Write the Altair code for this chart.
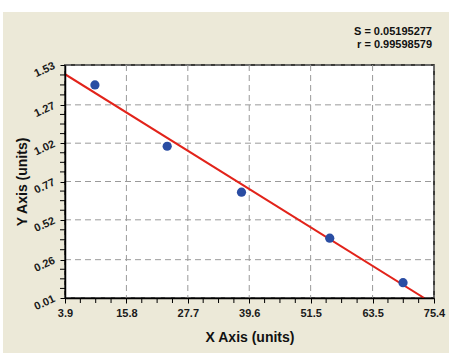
import altair as alt
import pandas as pd

# ---- data ----
x_ticks = [3.9, 15.8, 27.7, 39.6, 51.5, 63.5, 75.4]
y_ticks = [0.01, 0.26, 0.52, 0.77, 1.02, 1.27, 1.53]
point_x = [9.7, 23.7, 38.1, 55.2, 69.4]
point_y = [1.40, 1.00, 0.70, 0.40, 0.11]
fit_x = [3.9, 73.5]
fit_y = [1.47, 0.01]
stats_text = ["S = 0.05195277", "r = 0.99598579"]

W, H = 369, 233
FONT = "Liberation Sans"
BG = "#ECE9D8"

x_minor = [a + (b - a) * k / 4 for a, b in zip(x_ticks[:-1], x_ticks[1:]) for k in (1, 2, 3)]
y_minor = [a + (b - a) * k / 4 for a, b in zip(y_ticks[:-1], y_ticks[1:]) for k in (1, 2, 3)]

pts = pd.DataFrame({"x": point_x, "y": point_y})
fit = pd.DataFrame({"x": fit_x, "y": fit_y})
xt = pd.DataFrame({"x": x_ticks})
yt = pd.DataFrame({"y": y_ticks})
xm = pd.DataFrame({"x": x_minor})
ym = pd.DataFrame({"y": y_minor})
one = pd.DataFrame({"a": [0]})

xscale = alt.Scale(domain=[x_ticks[0], x_ticks[-1]], nice=False, zero=False)
yscale = alt.Scale(domain=[y_ticks[0], y_ticks[-1]], nice=False, zero=False)

xaxis = alt.Axis(
    values=x_ticks, format=".1f", title="X Axis (units)", grid=False,
    domainColor="black", domainWidth=1.5, tickColor="black", tickSize=5,
    labelFont=FONT, labelFontWeight="bold", labelFontSize=11, labelColor="#1a1a1a",
    labelPadding=4, titleFont=FONT, titleFontSize=14, titleFontWeight="bold",
    titleColor="#111", titlePadding=12, zindex=2, labelFlush=False,
    labelOverlap=False,
)
yaxis = alt.Axis(
    values=y_ticks, format=".2f", title="Y Axis (units)", grid=False,
    domainColor="black", domainWidth=1.5, tickColor="black", tickSize=5,
    labelFont=FONT, labelFontWeight="bold", labelFontSize=11, labelColor="#1a1a1a",
    labelAngle=335, labelAlign="right", labelBaseline="middle", labelPadding=6,
    titleFont=FONT, titleFontSize=14, titleFontWeight="bold", titleColor="#111",
    titleAngle=270, titleX=-43, titleY=H / 2, titleBaseline="middle",
    titleAlign="center", zindex=2, labelFlush=False, labelOverlap=False,
)

bg = alt.Chart(one).mark_rect(fill=BG).encode(
    x=alt.value(-62), x2=alt.value(384), y=alt.value(-53), y2=alt.value(288)
)
panel = alt.Chart(one).mark_rect(fill="white", stroke="black", strokeWidth=1.5).encode(
    x=alt.value(0), x2=alt.value(W), y=alt.value(0), y2=alt.value(H)
)
xgrid = alt.Chart(xt).mark_rule(color="#9a9a9a", strokeDash=[6, 4], strokeWidth=1).encode(
    x=alt.X("x:Q", scale=xscale, axis=xaxis), y=alt.value(0), y2=alt.value(H)
)
ygrid = alt.Chart(yt).mark_rule(color="#9a9a9a", strokeDash=[6, 4], strokeWidth=1).encode(
    y=alt.Y("y:Q", scale=yscale, axis=yaxis), x=alt.value(0), x2=alt.value(W)
)
xminor = alt.Chart(xm).mark_rule(color="black", strokeWidth=1).encode(
    x=alt.X("x:Q", scale=xscale, axis=xaxis), y=alt.value(H), y2=alt.value(H + 5)
)
yminor = alt.Chart(ym).mark_rule(color="black", strokeWidth=1).encode(
    y=alt.Y("y:Q", scale=yscale, axis=yaxis), x=alt.value(-5), x2=alt.value(0)
)
line = alt.Chart(fit).mark_line(color="#E2231A", strokeWidth=2, clip=True).encode(
    x=alt.X("x:Q", scale=xscale, axis=xaxis), y=alt.Y("y:Q", scale=yscale, axis=yaxis)
)
points = alt.Chart(pts).mark_point(filled=True, shape="circle", size=85, color="#2A4DA3", opacity=1).encode(
    x=alt.X("x:Q", scale=xscale, axis=xaxis), y=alt.Y("y:Q", scale=yscale, axis=yaxis)
)
text_style = dict(align="right", baseline="middle", font=FONT, fontSize=11,
                  fontWeight="bold", color="#111")
stat_s = alt.Chart(pd.DataFrame({"t": [stats_text[0]]})).mark_text(**text_style).encode(
    x=alt.value(W - 2), y=alt.value(-33), text="t:N"
)
stat_r = alt.Chart(pd.DataFrame({"t": [stats_text[1]]})).mark_text(**text_style).encode(
    x=alt.value(W - 2), y=alt.value(-20), text="t:N"
)

chart = alt.layer(bg, panel, xgrid, ygrid, xminor, yminor, line, points, stat_s, stat_r).properties(
    width=W, height=H,
    autosize=alt.AutoSizeParams(type="none"),
    padding={"left": 65, "top": 65, "right": 18, "bottom": 59},
    background="white",
).configure_view(stroke=None).configure_axis(labelOverlap=False)

chart.save("out.html", embed_options={"renderer": "svg", "actions": False})
